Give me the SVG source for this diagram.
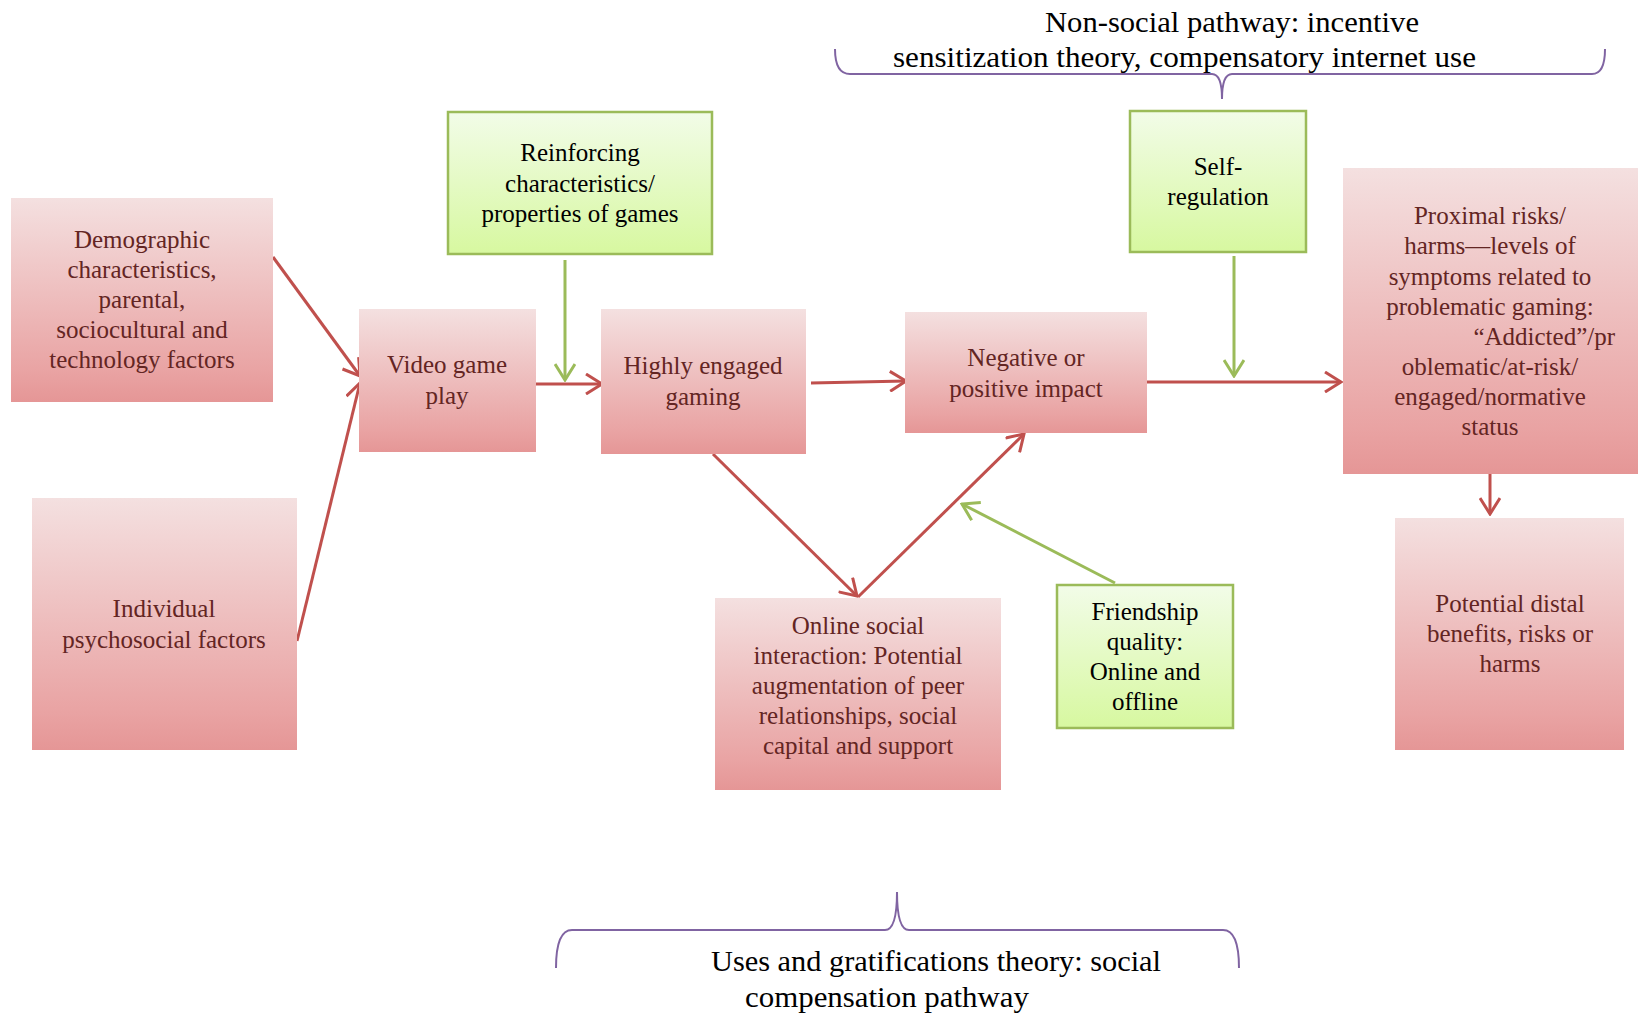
<svg xmlns="http://www.w3.org/2000/svg" width="1641" height="1016" viewBox="0 0 1641 1016">
<defs>
<linearGradient id="pink" x1="0" y1="0" x2="0" y2="1">
<stop offset="0" stop-color="#F4E0E0"/>
<stop offset="0.85" stop-color="#E9A3A3"/>
<stop offset="1" stop-color="#E59696"/>
</linearGradient>
<linearGradient id="green" x1="0" y1="0" x2="0" y2="1">
<stop offset="0" stop-color="#F2FCE8"/>
<stop offset="1" stop-color="#D7F8A0"/>
</linearGradient>
<marker id="ar" markerUnits="userSpaceOnUse" viewBox="0 0 20 22" markerWidth="20" markerHeight="22" refX="18" refY="11" orient="auto">
<path d="M2,1 L18,11 L2,21" fill="none" stroke="#C0504D" stroke-width="3"/>
</marker>
<marker id="ag" markerUnits="userSpaceOnUse" viewBox="0 0 20 22" markerWidth="20" markerHeight="22" refX="18" refY="11" orient="auto">
<path d="M2,1 L18,11 L2,21" fill="none" stroke="#9BBB59" stroke-width="3"/>
</marker>
</defs>
<style>
.pk{fill:url(#pink);stroke:none}
.gr{fill:url(#green);stroke:#9BBB59;stroke-width:2.5}
.tp{font-family:"Liberation Serif","DejaVu Serif",serif;font-size:25px;fill:#632523;text-anchor:middle}
.tg{font-family:"Liberation Serif","DejaVu Serif",serif;font-size:25px;fill:#000;text-anchor:middle}
.rl{stroke:#C0504D;stroke-width:3;fill:none;marker-end:url(#ar)}
.gl{stroke:#9BBB59;stroke-width:3;fill:none;marker-end:url(#ag)}
.br{stroke:#8064A2;stroke-width:2;fill:none}
.bt{font-family:"Liberation Serif","DejaVu Serif",serif;font-size:29px;fill:#000}
</style>
<rect width="1641" height="1016" fill="#fff"/>

<g id="connectors">
<line class="rl" x1="273" y1="257" x2="360" y2="376"/>
<line class="rl" x1="297" y1="641" x2="360" y2="383"/>
<line class="rl" x1="536" y1="384" x2="602" y2="384"/>
<line class="gl" x1="565" y1="260" x2="565" y2="380"/>
<line class="rl" x1="811" y1="383" x2="906" y2="381"/>
<line class="rl" x1="713" y1="454" x2="857" y2="596"/>
<line class="rl" x1="858" y1="597" x2="1024" y2="434"/>
<line class="gl" x1="1115" y1="583" x2="962" y2="504"/>
<line class="rl" x1="1144" y1="382" x2="1341" y2="382"/>
<line class="gl" x1="1234" y1="256" x2="1234" y2="376"/>
<line class="rl" x1="1490" y1="474" x2="1490" y2="514"/>
</g>

<g id="n-demographic">
<rect class="pk" x="11" y="198" width="262" height="204"/>
<text class="tp" x="142" y="248">Demographic</text>
<text class="tp" x="142" y="278">characteristics,</text>
<text class="tp" x="142" y="308">parental,</text>
<text class="tp" x="142" y="338">sociocultural and</text>
<text class="tp" x="142" y="368">technology factors</text>
</g>

<g id="n-individual">
<rect class="pk" x="32" y="498" width="265" height="252"/>
<text class="tp" x="164" y="617">Individual</text>
<text class="tp" x="164" y="648">psychosocial factors</text>
</g>

<g id="n-video">
<rect class="pk" x="359" y="309" width="177" height="143"/>
<text class="tp" x="447" y="373">Video game</text>
<text class="tp" x="447" y="404">play</text>
</g>

<g id="n-reinforcing">
<rect class="gr" x="448" y="112" width="264" height="142"/>
<text class="tg" x="580" y="161">Reinforcing</text>
<text class="tg" x="580" y="192">characteristics/</text>
<text class="tg" x="580" y="222">properties of games</text>
</g>

<g id="n-highly">
<rect class="pk" x="601" y="309" width="205" height="145"/>
<text class="tp" x="703" y="374">Highly engaged</text>
<text class="tp" x="703" y="405">gaming</text>
</g>

<g id="n-impact">
<rect class="pk" x="905" y="312" width="242" height="121"/>
<text class="tp" x="1026" y="366">Negative or</text>
<text class="tp" x="1026" y="397">positive impact</text>
</g>

<g id="n-selfreg">
<rect class="gr" x="1130" y="111" width="176" height="141"/>
<text class="tg" x="1218" y="175">Self-</text>
<text class="tg" x="1218" y="205">regulation</text>
</g>

<g id="n-proximal">
<rect class="pk" x="1343" y="168" width="295" height="306"/>
<text class="tp" x="1490" y="224">Proximal risks/</text>
<text class="tp" x="1490" y="254">harms—levels of</text>
<text class="tp" x="1490" y="285">symptoms related to</text>
<text class="tp" x="1490" y="315">problematic gaming:</text>
<text class="tp" x="1615" y="345" style="text-anchor:end">“Addicted”/pr</text>
<text class="tp" x="1490" y="375">oblematic/at-risk/</text>
<text class="tp" x="1490" y="405">engaged/normative</text>
<text class="tp" x="1490" y="435">status</text>
</g>

<g id="n-distal">
<rect class="pk" x="1395" y="518" width="229" height="232"/>
<text class="tp" x="1510" y="612">Potential distal</text>
<text class="tp" x="1510" y="642">benefits, risks or</text>
<text class="tp" x="1510" y="672">harms</text>
</g>

<g id="n-online">
<rect class="pk" x="715" y="598" width="286" height="192"/>
<text class="tp" x="858" y="634">Online social</text>
<text class="tp" x="858" y="664">interaction: Potential</text>
<text class="tp" x="858" y="694">augmentation of peer</text>
<text class="tp" x="858" y="724">relationships, social</text>
<text class="tp" x="858" y="754">capital and support</text>
</g>

<g id="n-friendship">
<rect class="gr" x="1057" y="585" width="176" height="143"/>
<text class="tg" x="1145" y="620">Friendship</text>
<text class="tg" x="1145" y="650">quality:</text>
<text class="tg" x="1145" y="680">Online and</text>
<text class="tg" x="1145" y="710">offline</text>
</g>

<g id="brace-top">
<path class="br" d="M835,49 Q835,74 850,74 L1212,74 Q1222,74 1222,99 Q1222,74 1232,74 L1592,74 Q1605,74 1605,49"/>
<text class="bt" x="1045" y="32" textLength="374" lengthAdjust="spacingAndGlyphs">Non-social pathway: incentive</text>
<text class="bt" x="893" y="67" textLength="583" lengthAdjust="spacingAndGlyphs">sensitization theory, compensatory internet use</text>
</g>

<g id="brace-bottom">
<path class="br" d="M556,968 Q556,930 572,930 L885,930 Q897,930 897,892 Q897,930 909,930 L1223,930 Q1239,930 1239,968"/>
<text class="bt" x="711" y="971" textLength="450" lengthAdjust="spacingAndGlyphs">Uses and gratifications theory: social</text>
<text class="bt" x="745" y="1007" textLength="284" lengthAdjust="spacingAndGlyphs">compensation pathway</text>
</g>
</svg>
